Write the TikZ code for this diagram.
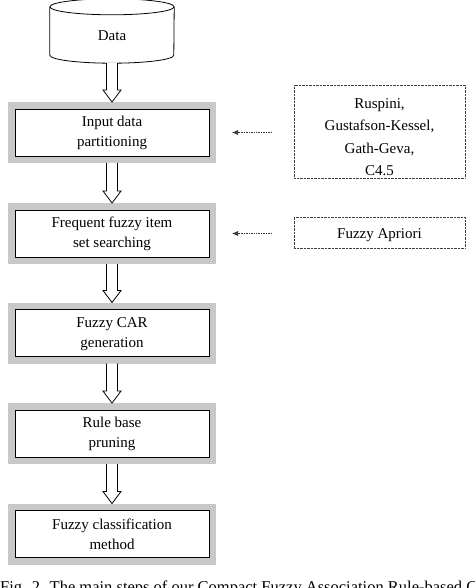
\documentclass[tikz,border=0pt]{standalone}
\usepackage{fontspec}
\setmainfont{Liberation Serif}
\usetikzlibrary{positioning, arrows.meta, calc}

\definecolor{framegray}{RGB}{200,200,200}

% hollow block arrow from the bottom of #1 to the top of #2
\newcommand{\flowarrow}[2]{%
  \draw[blockarr] ($(#1.south)+(-5.5,0)$) -- ($(#2.north)+(-5.5,-12)$)
    -- ($(#2.north)+(-9,-12)$) -- (#2.north) -- ($(#2.north)+(9,-12)$)
    -- ($(#2.north)+(5.5,-12)$) -- ($(#1.south)+(5.5,0)$);}

\begin{document}
\begin{tikzpicture}[x=1pt, y=-1pt,
    dbase/.style={minimum width=124pt, minimum height=55pt, inner sep=0pt,
        font=\fontsize{15}{18}\selectfont},
    cylline/.style={line width=0.8pt},
    stepbox/.style={draw, fill=white, line width=0.8pt, minimum width=194pt, minimum height=47pt,
        align=center, font=\fontsize{15}{20}\selectfont, outer sep=7pt,
        preaction={draw=framegray, line width=14pt}},
    srcbox/.style={draw=black!75, densely dotted, minimum width=171pt, inner ysep=0pt, align=center,
        font=\fontsize{15}{22.5}\selectfont},
    blockarr/.style={draw, fill=white, line width=0.8pt, line join=miter},
    feed/.style={draw=black!80, densely dotted, line width=0.7pt,
        -{Latex[length=6pt,width=5pt]}, shorten <=22pt, shorten >=16pt},
]
\path[use as bounding box, clip] (0,0) rectangle (474,588);

% data store
\node[dbase] (data) at (112,35.5) {Data};
\draw[cylline] ([yshift=1pt]data.north west) -- ([yshift=8pt]data.south west)
    arc[start angle=180, end angle=360, x radius=62pt, y radius=8pt] -- ([yshift=1pt]data.north east);
\draw[cylline] ([yshift=1pt]data.north) ellipse[x radius=62pt, y radius=8pt];

% main steps
\node[stepbox] (partition) at (112,132.5) {Input data\\partitioning};
\node[stepbox] (itemset)   at (112,233.5) {Frequent fuzzy item\\set searching};
\node[stepbox] (cargen)    at (112,333)   {\rule{0pt}{13pt}Fuzzy CAR\\generation};
\node[stepbox] (pruning)   at (112,433.5) {Rule base\\pruning};
\node[stepbox] (classify)  at (112,534)   {Fuzzy classification\\method};

% methods used
\node[srcbox, minimum height=93pt] (clustering) at (379.5,131.5)
    {\rule{0pt}{21pt}Ruspini,\\Gustafson-Kessel,\\Gath-Geva,\\C4.5};
\node[srcbox, minimum height=31pt] (apriori) at (379.5,232.5) {\rule{0pt}{16pt}Fuzzy Apriori};

\flowarrow{data}{partition}
\flowarrow{partition}{itemset}
\flowarrow{itemset}{cargen}
\flowarrow{cargen}{pruning}
\flowarrow{pruning}{classify}

\draw[feed] (clustering.west |- partition) -- (partition.east);
\draw[feed] (apriori.west |- itemset) -- (itemset.east);

\node[anchor=base west, inner sep=0pt, font=\fontsize{16.5}{20}\selectfont] (caption) at (0,592)
    {Fig. 2. The main steps of our Compact Fuzzy Association Rule-based Classifier};
\end{tikzpicture}
\end{document}
